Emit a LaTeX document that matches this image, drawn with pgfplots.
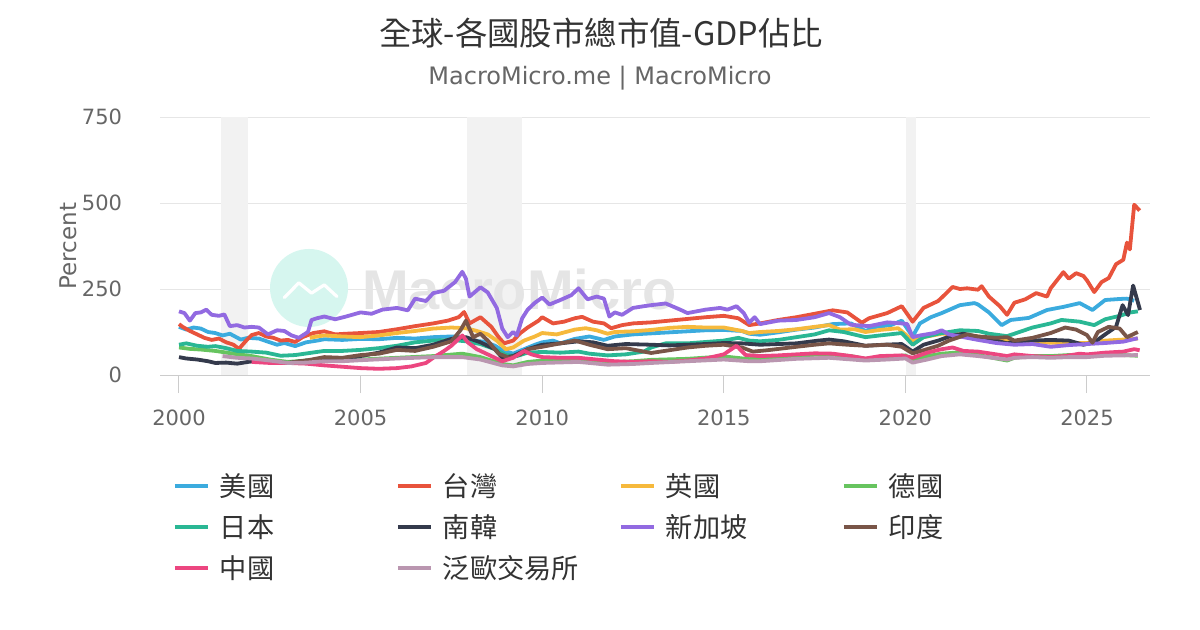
\documentclass[border=0pt]{standalone}
\usepackage{fontspec}
\setmainfont{DejaVu Sans}
\newfontfamily\cjk{Noto Sans CJK TC}
\newfontfamily\wmfont{Liberation Sans}
\usepackage{pgfplots}
\pgfplotsset{compat=1.18}
\definecolor{usblue}{RGB}{59,171,222}
\definecolor{twred}{RGB}{232,83,60}
\definecolor{ukyellow}{RGB}{246,185,60}
\definecolor{degreen}{RGB}{103,196,95}
\definecolor{jpteal}{RGB}{42,183,148}
\definecolor{krnavy}{RGB}{52,58,76}
\definecolor{sgpurple}{RGB}{146,106,225}
\definecolor{inbrown}{RGB}{121,85,72}
\definecolor{cnpink}{RGB}{236,70,128}
\definecolor{eumauve}{RGB}{186,150,176}
\definecolor{c333}{RGB}{51,51,51}
\definecolor{c666}{RGB}{102,102,102}
\definecolor{gridc}{RGB}{230,230,230}
\definecolor{axc}{RGB}{204,204,204}
\definecolor{bandc}{RGB}{242,242,242}
\definecolor{wmcircle}{RGB}{214,246,239}
\definecolor{wmtext}{RGB}{229,229,229}
\newcommand{\lgd}[1]{\makebox[88bp][l]{\rule[-2bp]{0pt}{13bp}#1}}
\begin{document}
\begin{tikzpicture}
\useasboundingbox (0,0) rectangle (600bp,315bp);
\node[font=\cjk\fontsize{16.2bp}{20bp}\selectfont, text=c333] at (300.5bp,298.5bp) {全球-各國股市總市值-GDP佔比};
\node[font=\fontsize{12bp}{14bp}\selectfont, text=c666] at (300bp,276bp) {MacroMicro.me | MacroMicro};
\begin{axis}[
  at={(80bp,127.5bp)}, anchor=south west,
  scale only axis, width=495bp, height=129bp,
  xmin=1999.477, xmax=2026.735, ymin=0, ymax=750,
  separate axis lines,
  axis x line*=bottom, axis y line*=left,
  x axis line style={draw=axc, line width=0.5bp},
  y axis line style={draw=none},
  xtick={2000,2005,...,2025}, ytick={0,250,500,750},
  xtick style={draw=axc, line width=0.5bp},
  ytick style={draw=none},
  tick align=outside, major tick length=9bp,
  ymajorgrids, grid style={draw=gridc, line width=0.5bp},
  /pgf/number format/assume math mode=true,
  /pgf/number format/1000 sep={},
  ticklabel style={font=\fontsize{10.5bp}{12bp}\selectfont, text=c666},
  yticklabel style={xshift=-6.5bp},
  xticklabel style={yshift=-5bp},
  ylabel={Percent},
  ylabel style={at={(axis description cs:-0.0929,0.5)}, anchor=center, font=\fontsize{11.5bp}{14bp}\selectfont, text=c666},
  legend columns=4,
  legend cell align=left,
  legend style={at={(axis description cs:0.0131,-0.381)}, anchor=north west, draw=none, fill=none,
    inner sep=0pt, outer sep=0pt, nodes={inner sep=0pt},
    font=\cjk\fontsize{13.6bp}{15bp}\selectfont, text=c333,
    row sep=7.5bp, column sep=0pt,
    /tikz/every odd column/.append style={column sep=5bp}},
  legend image code/.code={\draw[#1, line width=2bp] (0bp,0bp) -- (16.5bp,0bp);},
  every axis plot/.append style={line width=1.9bp, line join=round, no markers},
]
\fill[bandc] (axis cs:2001.16,0) rectangle (axis cs:2001.9,750);
\fill[bandc] (axis cs:2007.93,0) rectangle (axis cs:2009.44,750);
\fill[bandc] (axis cs:2020.02,0) rectangle (axis cs:2020.29,750);
\fill[wmcircle] (axis cs:2003.58,253) circle[radius=19.5bp];
\draw[white, line width=1.6bp, line join=round, line cap=round] (axis cs:2002.9,225) -- (axis cs:2003.3,268) -- (axis cs:2003.65,238) -- (axis cs:2004.0,262) -- (axis cs:2004.35,228);
\node[font=\wmfont\bfseries\fontsize{28bp}{30bp}\selectfont, text=wmtext, anchor=west] at (axis cs:2004.85,250) {MacroMicro};

\addplot[usblue] coordinates {
(2000.0,140)(2000.2,132)(2000.4,138)(2000.6,135)(2000.8,125)(2001.0,122)(2001.2,115)(2001.4,120)(2001.7,103)(2001.9,108)
(2002.2,106)(2002.5,95)(2002.7,88)(2002.9,93)(2003.2,84)(2003.5,95)(2003.8,100)(2004.0,104)(2004.5,102)(2005.0,105)
(2005.5,104)(2006.0,108)(2006.5,106)(2007.0,110)(2007.5,112)(2007.8,110)(2008.0,100)(2008.4,97)(2008.7,85)(2008.9,72)
(2009.2,62)(2009.5,75)(2009.8,88)(2010.0,95)(2010.3,100)(2010.5,92)(2010.9,105)(2011.3,112)(2011.7,102)(2012.0,112)
(2012.5,118)(2013.0,121)(2013.5,124)(2014.0,127)(2014.5,130)(2015.0,131)(2015.5,128)(2015.7,120)(2016.0,117)(2016.5,124)
(2017.0,132)(2017.5,138)(2018.0,148)(2018.5,150)(2018.9,128)(2019.2,140)(2019.6,145)(2019.9,158)(2020.2,112)(2020.4,150)
(2020.7,168)(2021.0,180)(2021.5,203)(2021.9,209)(2022.0,205)(2022.3,182)(2022.65,145)(2022.9,160)(2023.4,166)(2023.9,189)
(2024.35,198)(2024.8,209)(2025.15,189)(2025.5,218)(2025.9,221)(2026.1,222)(2026.3,216)};
\addlegendentry{\lgd{美國}}
\addplot[twred] coordinates {
(2000.0,148)(2000.1,140)(2000.3,128)(2000.5,118)(2000.7,108)(2000.9,102)(2001.1,106)(2001.3,95)(2001.5,88)(2001.65,76)
(2001.85,100)(2002.0,116)(2002.2,122)(2002.4,112)(2002.6,108)(2002.8,100)(2003.0,102)(2003.2,96)(2003.4,110)(2003.7,122)
(2004.0,127)(2004.3,118)(2004.6,120)(2005.0,122)(2005.5,125)(2006.0,133)(2006.5,142)(2007.0,150)(2007.4,158)(2007.7,168)
(2007.85,183)(2008.0,150)(2008.3,168)(2008.6,140)(2008.8,110)(2008.95,92)(2009.2,100)(2009.4,122)(2009.6,138)(2009.9,158)
(2010.0,168)(2010.3,150)(2010.6,155)(2010.9,165)(2011.1,169)(2011.4,155)(2011.7,150)(2011.9,136)(2012.2,145)(2012.5,150)
(2013.0,153)(2013.5,158)(2014.0,163)(2014.5,168)(2015.0,172)(2015.4,165)(2015.7,145)(2016.0,150)(2016.5,160)(2017.0,168)
(2017.5,178)(2018.0,188)(2018.4,182)(2018.8,152)(2019.0,165)(2019.5,180)(2019.9,200)(2020.2,155)(2020.5,195)(2020.9,215)
(2021.1,235)(2021.3,256)(2021.5,250)(2021.7,252)(2022.0,248)(2022.1,258)(2022.3,228)(2022.6,200)(2022.8,175)(2023.0,210)
(2023.3,220)(2023.6,238)(2023.9,228)(2024.0,252)(2024.35,299)(2024.5,280)(2024.7,296)(2024.9,288)(2025.0,275)(2025.2,241)
(2025.4,270)(2025.6,282)(2025.8,322)(2026.0,335)(2026.1,385)(2026.18,365)(2026.3,495)(2026.45,478)};
\addlegendentry{\lgd{台灣}}
\addplot[ukyellow] coordinates {
(2003.6,108)(2003.8,112)(2004.0,115)(2004.5,112)(2005.0,110)(2005.5,115)(2006.0,122)(2006.5,128)(2007.0,135)(2007.5,138)
(2007.9,136)(2008.2,128)(2008.5,118)(2008.75,100)(2009.0,75)(2009.2,80)(2009.5,100)(2009.8,112)(2010.0,122)(2010.4,118)
(2010.9,132)(2011.2,136)(2011.5,130)(2011.8,120)(2012.0,125)(2012.5,127)(2013.0,131)(2013.5,137)(2014.0,140)(2014.5,138)
(2015.0,138)(2015.5,128)(2015.7,122)(2016.0,125)(2016.5,128)(2017.0,133)(2017.5,140)(2017.9,145)(2018.2,132)(2018.6,133)
(2018.9,125)(2019.3,131)(2019.8,136)(2020.2,100)(2020.5,110)(2021.0,120)(2021.5,118)(2022.0,112)(2022.5,105)(2023.0,98)
(2023.5,96)(2024.0,94)(2024.5,92)(2025.0,93)(2025.5,100)(2026.0,103)(2026.4,106)};
\addlegendentry{\lgd{英國}}
\addplot[degreen] coordinates {
(2000.0,80)(2000.3,76)(2000.6,74)(2001.0,70)(2001.5,62)(2002.0,55)(2002.5,45)(2003.0,38)(2003.5,42)(2004.0,44)
(2005.0,45)(2006.0,50)(2007.0,55)(2007.8,62)(2008.3,52)(2008.9,32)(2009.2,28)(2009.6,38)(2010.0,42)(2011.0,48)
(2011.8,37)(2012.5,40)(2013.0,44)(2014.0,47)(2015.0,54)(2015.7,46)(2016.0,48)(2017.0,57)(2017.9,60)(2018.5,55)
(2018.9,47)(2019.5,53)(2020.0,57)(2020.2,42)(2020.6,55)(2021.0,62)(2021.5,66)(2022.0,58)(2022.8,42)(2023.0,50)
(2023.5,55)(2024.0,55)(2024.5,58)(2025.0,58)(2025.5,60)(2026.0,58)(2026.4,56)};
\addlegendentry{\lgd{德國}}
\addplot[jpteal] coordinates {
(2000.0,88)(2000.2,92)(2000.5,85)(2000.8,82)(2001.0,84)(2001.3,78)(2001.6,70)(2002.0,68)(2002.4,65)(2002.8,56)
(2003.2,58)(2003.6,64)(2004.0,70)(2004.5,70)(2005.0,73)(2005.5,78)(2006.0,85)(2006.5,95)(2007.0,100)(2007.5,102)
(2007.9,98)(2008.3,90)(2008.7,75)(2009.0,58)(2009.3,55)(2009.6,65)(2010.0,67)(2010.5,65)(2011.0,68)(2011.3,62)
(2011.8,57)(2012.3,60)(2012.8,68)(2013.0,80)(2013.4,92)(2014.0,92)(2014.5,96)(2015.0,100)(2015.4,108)(2015.7,100)
(2016.0,98)(2016.5,102)(2017.0,110)(2017.5,118)(2017.9,130)(2018.3,125)(2018.9,110)(2019.3,115)(2019.9,122)(2020.2,88)
(2020.5,110)(2020.9,120)(2021.5,130)(2022.0,128)(2022.3,120)(2022.8,113)(2023.0,120)(2023.5,138)(2024.0,150)(2024.3,160)
(2024.8,155)(2025.2,145)(2025.5,162)(2025.9,172)(2026.2,182)(2026.4,185)};
\addlegendentry{\lgd{日本}}
\addplot[krnavy] coordinates {
(2000.0,52)(2000.2,48)(2000.5,45)(2000.8,40)(2001.0,35)(2001.3,36)(2001.6,33)(2001.9,38)(2002.2,42)(2002.6,37)
(2003.0,35)(2003.5,42)(2004.0,45)(2004.5,46)(2005.0,55)(2005.5,65)(2006.0,80)(2006.5,78)(2007.0,88)(2007.5,105)
(2007.9,110)(2008.3,95)(2008.7,75)(2008.9,50)(2009.2,55)(2009.6,75)(2010.0,88)(2010.5,92)(2011.0,98)(2011.4,95)
(2011.8,85)(2012.3,90)(2013.0,88)(2013.5,86)(2014.0,88)(2014.5,90)(2015.0,93)(2015.5,92)(2016.0,88)(2016.5,90)
(2017.0,92)(2017.6,100)(2017.9,103)(2018.3,98)(2018.9,85)(2019.4,88)(2019.9,90)(2020.2,68)(2020.5,88)(2020.9,100)
(2021.3,115)(2021.6,120)(2022.0,110)(2022.5,100)(2022.8,92)(2023.0,98)(2023.5,100)(2024.0,102)(2024.5,100)(2024.9,88)
(2025.2,95)(2025.5,118)(2025.8,140)(2025.98,203)(2026.13,174)(2026.27,260)(2026.46,189)};
\addlegendentry{\lgd{南韓}}
\addplot[sgpurple] coordinates {
(2000.0,185)(2000.15,180)(2000.3,158)(2000.45,180)(2000.6,182)(2000.75,190)(2000.9,175)(2001.1,172)(2001.25,176)(2001.4,142)
(2001.6,145)(2001.8,138)(2002.0,140)(2002.2,138)(2002.45,118)(2002.7,130)(2002.9,128)(2003.1,115)(2003.3,108)(2003.55,125)
(2003.65,160)(2003.8,165)(2004.0,170)(2004.3,162)(2004.6,170)(2005.0,182)(2005.3,178)(2005.6,190)(2006.0,195)(2006.3,188)
(2006.5,222)(2006.8,215)(2007.0,238)(2007.3,245)(2007.6,270)(2007.8,300)(2007.9,280)(2008.0,228)(2008.3,255)(2008.5,240)
(2008.75,195)(2008.9,135)(2009.05,110)(2009.2,125)(2009.3,115)(2009.45,165)(2009.6,190)(2009.8,210)(2010.0,225)(2010.2,205)
(2010.5,218)(2010.8,232)(2011.0,252)(2011.25,220)(2011.5,228)(2011.7,222)(2011.85,170)(2012.0,182)(2012.2,175)(2012.5,195)
(2012.8,200)(2013.0,203)(2013.4,208)(2013.8,190)(2014.0,180)(2014.5,190)(2014.9,195)(2015.1,190)(2015.35,200)(2015.55,180)
(2015.7,152)(2015.85,168)(2016.0,148)(2016.5,158)(2017.0,160)(2017.5,168)(2017.9,180)(2018.2,168)(2018.5,146)(2019.0,142)
(2019.5,153)(2019.9,150)(2020.05,148)(2020.2,110)(2020.4,115)(2020.8,122)(2021.0,130)(2021.2,118)(2021.5,112)(2022.0,102)
(2022.5,93)(2023.0,88)(2023.5,90)(2024.0,82)(2024.5,87)(2025.0,90)(2025.5,93)(2026.0,97)(2026.4,107)};
\addlegendentry{\lgd{新加坡}}
\addplot[inbrown] coordinates {
(2003.0,35)(2003.5,42)(2004.0,52)(2004.5,50)(2005.0,58)(2005.5,62)(2006.0,73)(2006.5,70)(2007.0,82)(2007.5,98)
(2007.75,130)(2007.9,158)(2008.1,110)(2008.3,120)(2008.5,100)(2008.8,62)(2009.1,50)(2009.4,60)(2009.6,75)(2010.0,82)
(2010.5,92)(2010.9,100)(2011.3,88)(2011.8,75)(2012.3,78)(2013.0,64)(2013.5,72)(2014.0,80)(2014.5,85)(2015.0,88)
(2015.5,80)(2015.8,68)(2016.2,72)(2017.0,82)(2017.5,88)(2017.9,92)(2018.4,88)(2018.9,85)(2019.5,88)(2019.9,82)
(2020.2,63)(2020.5,72)(2020.9,85)(2021.2,100)(2021.7,118)(2022.0,112)(2022.5,108)(2022.8,110)(2023.0,100)(2023.5,108)
(2024.0,122)(2024.4,138)(2024.7,132)(2025.0,116)(2025.15,94)(2025.3,125)(2025.6,140)(2025.9,135)(2026.1,110)(2026.4,125)};
\addlegendentry{\lgd{印度}}
\addplot[cnpink] coordinates {
(2002.0,38)(2002.5,35)(2003.0,35)(2003.5,33)(2004.0,28)(2004.5,24)(2005.0,20)(2005.5,18)(2006.0,20)(2006.4,25)
(2006.8,35)(2007.0,50)(2007.3,70)(2007.5,85)(2007.8,115)(2007.95,95)(2008.2,75)(2008.6,55)(2008.9,40)(2009.2,50)
(2009.5,70)(2009.7,60)(2010.0,52)(2010.5,50)(2011.0,50)(2011.5,45)(2012.0,40)(2012.5,38)(2013.0,40)(2013.5,38)
(2014.0,42)(2014.5,48)(2015.0,60)(2015.35,85)(2015.6,58)(2016.0,55)(2016.5,57)(2017.0,60)(2017.5,63)(2018.0,62)
(2018.5,55)(2018.9,48)(2019.3,55)(2019.9,57)(2020.2,50)(2020.6,65)(2021.0,75)(2021.3,80)(2021.6,70)(2022.0,68)
(2022.5,60)(2022.8,55)(2023.0,60)(2023.5,55)(2024.0,52)(2024.4,55)(2024.8,62)(2025.0,60)(2025.5,65)(2026.0,68)
(2026.3,75)(2026.45,72)};
\addlegendentry{\lgd{中國}}
\addplot[eumauve] coordinates {
(2001.2,55)(2001.6,50)(2002.0,48)(2002.5,42)(2003.0,35)(2003.5,36)(2004.0,40)(2004.5,40)(2005.0,43)(2006.0,48)
(2007.0,52)(2007.8,52)(2008.3,45)(2008.9,28)(2009.2,25)(2009.6,32)(2010.0,35)(2011.0,38)(2011.8,30)(2012.5,32)
(2013.0,35)(2014.0,40)(2015.0,45)(2015.7,40)(2016.0,40)(2017.0,47)(2017.9,50)(2018.9,42)(2019.5,45)(2020.0,48)
(2020.2,36)(2020.6,45)(2021.0,55)(2021.5,60)(2022.0,55)(2022.8,45)(2023.0,50)(2023.5,52)(2024.0,50)(2024.5,52)
(2025.0,52)(2025.5,56)(2026.0,57)(2026.4,58)};
\addlegendentry{\lgd{泛歐交易所}}
\end{axis}
\end{tikzpicture}
\end{document}
